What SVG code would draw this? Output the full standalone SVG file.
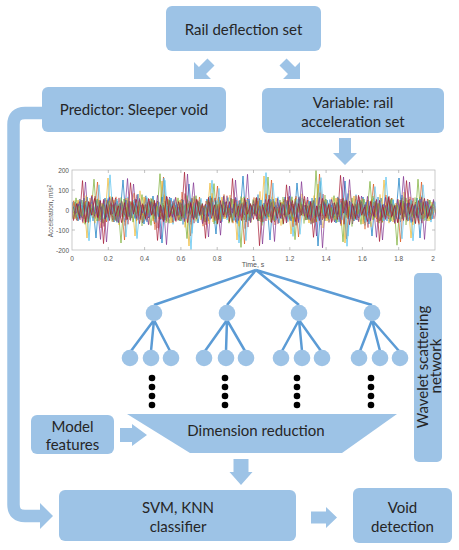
<svg xmlns="http://www.w3.org/2000/svg" width="459" height="550" viewBox="0 0 459 550">
<style>
.box{fill:#9DC3E6}
.lbl{font-family:Lato,"Liberation Sans",sans-serif;font-size:15px;fill:#262626;text-anchor:middle}
.ax{font-family:"Liberation Sans",Arial,sans-serif;font-size:6.5px;fill:#555}
.tl{stroke:#5B9BD5;stroke-width:2.5;fill:none}
.nd{fill:#9DC3E6}
.dot{fill:#000}
.sig{fill:none;stroke-width:0.9;stroke-opacity:0.75}
</style>
<defs>
<clipPath id="plotclip"><rect x="72" y="170" width="364" height="80"/></clipPath>
<path id="noise" d="M0,5 L3,-12 L6,18 L9,-8 L12,22 L15,-15 L18,9 L21,-25 L24,14 L27,-6 L30,30 L33,-18 L36,7 L39,-10 L42,20 L45,-22 L48,12 L51,-4 L54,26 L57,-14 L60,3 L63,-28 L66,16 L69,-9 L72,19 L75,-20 L78,8 L81,-13 L84,33 L87,-7 L90,15 L93,-24 L96,11 L99,-16 L102,21 L105,-5 L108,17 L111,-30 L114,6 L117,-11 L120,24 L123,-19 L126,10 L129,-8 L132,27 L135,-15 L138,4 L141,-22 L144,18 L147,-10 L150,13 L153,-26 L156,9 L159,-3 L162,22 L165,-17 L168,14 L171,-12 L174,31 L177,-9 L180,7 L183,-21 L186,16 L189,-6 L192,20 L195,-27 L198,12 L201,-14 L204,25 L207,-4 L210,10 L213,-18 L216,19 L219,-11 L222,28 L225,-23 L228,5 L231,-9 L234,17 L237,-16 L240,23 L243,-7 L246,11 L249,-29 L252,15 L255,-12 L258,21 L261,-5 L264,8 L267,-20 L270,26 L273,-14 L276,13 L279,-8 L282,18 L285,-24 L288,6 L291,-10 L294,32 L297,-17 L300,9 L303,-13 L306,20 L309,-6 L312,14 L315,-25 L318,11 L321,-9 L324,23 L327,-18 L330,7 L333,-12 L336,19 L339,-22 L342,10 L345,-4 L348,24 L351,-15 L354,12 L357,-8 L360,16 L363,-5"/>
<path id="noise2" d="M0,3 L3,-8 L6,11 L9,-5 L12,9 L15,-13 L18,6 L21,-4 L24,28 L27,-10 L30,7 L33,-12 L36,4 L39,-7 L42,12 L45,-9 L48,5 L51,-30 L54,10 L57,-6 L60,8 L63,-11 L66,3 L69,-5 L72,14 L75,-8 L78,6 L81,-14 L84,9 L87,-3 L90,33 L93,-9 L96,7 L99,-12 L102,5 L105,-6 L108,11 L111,-10 L114,4 L117,-26 L120,8 L123,-7 L126,13 L129,-5 L132,6 L135,-11 L138,9 L141,-4 L144,24 L147,-13 L150,7 L153,-8 L156,3 L159,-12 L162,10 L165,-6 L168,5 L171,-34 L174,12 L177,-9 L180,6 L183,-4 L186,11 L189,-10 L192,4 L195,-7 L198,30 L201,-11 L204,8 L207,-5 L210,9 L213,-13 L216,5 L219,-8 L222,12 L225,-27 L228,6 L231,-4 L234,10 L237,-9 L240,7 L243,-12 L246,36 L249,-6 L252,8 L255,-10 L258,4 L261,-7 L264,13 L267,-11 L270,5 L273,-29 L276,9 L279,-5 L282,11 L285,-8 L288,6 L291,-13 L294,10 L297,-4 L300,26 L303,-9 L306,7 L309,-12 L312,4 L315,-6 L318,12 L321,-10 L324,5 L327,-32 L330,9 L333,-7 L336,11 L339,-5 L342,8 L345,-12 L348,28 L351,-8 L354,6 L357,-10 L360,9 L363,-4"/>
<path id="barrow" d="M-5,-24 L5,-24 L5,-12 L12,-12 L0,0 L-12,-12 L-5,-12 Z"/>
</defs>
<rect width="459" height="550" fill="#fff"/>

<g id="rail-deflection">
<rect class="box" x="166" y="6" width="155" height="45" rx="6"/>
<text class="lbl" x="243.5" y="35">Rail deflection set</text>
</g>

<g id="predictor">
<rect class="box" x="42" y="87" width="184" height="45" rx="6"/>
<text class="lbl" x="134" y="115">Predictor: Sleeper void</text>
</g>

<g id="variable">
<rect class="box" x="262" y="88" width="182" height="45" rx="6"/>
<text class="lbl" x="353" y="108">Variable: rail</text>
<text class="lbl" x="353" y="127">acceleration set</text>
</g>

<g id="acceleration-plot">
<g clip-path="url(#plotclip)">
<use href="#noise2" class="sig" stroke="#0072BD" transform="translate(72,210)"/>
<use href="#noise2" class="sig" stroke="#D95319" transform="translate(73.5,210) scale(1,-1)"/>
<use href="#noise2" class="sig" stroke="#EDB120" transform="translate(435,210) scale(-1,1)"/>
<use href="#noise2" class="sig" stroke="#7E2F8E" transform="translate(433.5,210) scale(-1,-1)"/>
<use href="#noise2" class="sig" stroke="#77AC30" transform="translate(70,210) scale(1,-1.1)"/>
<use href="#noise2" class="sig" stroke="#4DBEEE" transform="translate(437,210) scale(-1,1.1)"/>
<use href="#noise" class="sig" stroke="#A2142F" transform="translate(74,210) scale(1,0.55)"/>
<use href="#noise" class="sig" stroke="#0072BD" transform="translate(432,210) scale(-1,-0.5)"/>
<use href="#noise" class="sig" stroke="#D95319" transform="translate(71,210) scale(1,0.6)"/>
<use href="#noise" class="sig" stroke="#EDB120" transform="translate(434,210) scale(-1,-0.6)"/>
<use href="#noise2" class="sig" stroke="#4DBEEE" transform="translate(75,210) scale(1,-0.9)"/>
<use href="#noise2" class="sig" stroke="#7E2F8E" transform="translate(76.5,210) scale(1,1.05)"/>
<use href="#noise" class="sig" stroke="#77AC30" transform="translate(436,210) scale(-1,0.5)"/>
<use href="#noise2" class="sig" stroke="#A2142F" transform="translate(430.5,210) scale(-1,-1.05)"/>
</g>
<rect x="72" y="170" width="363" height="80" fill="none" stroke="#bdbdbd" stroke-width="0.8"/>
<g stroke="#999" stroke-width="0.6">
<path d="M108.3,250v-3M144.6,250v-3M180.9,250v-3M217.2,250v-3M253.5,250v-3M289.8,250v-3M326.1,250v-3M362.4,250v-3M398.7,250v-3"/>
<path d="M108.3,170v3M144.6,170v3M180.9,170v3M217.2,170v3M253.5,170v3M289.8,170v3M326.1,170v3M362.4,170v3M398.7,170v3"/>
<path d="M72,190h3M72,210h3M72,230h3M432,190h3M432,210h3M432,230h3"/>
</g>
<g class="ax" text-anchor="end">
<text x="69" y="172.5">200</text>
<text x="69" y="192.5">100</text>
<text x="69" y="212.5">0</text>
<text x="69" y="232.5">-100</text>
<text x="69" y="252.5">-200</text>
</g>
<g class="ax" text-anchor="middle">
<text x="72" y="260.5">0</text>
<text x="108.3" y="260.5">0.2</text>
<text x="144.6" y="260.5">0.4</text>
<text x="180.9" y="260.5">0.6</text>
<text x="217.2" y="260.5">0.8</text>
<text x="253.5" y="260.5">1</text>
<text x="289.8" y="260.5">1.2</text>
<text x="326.1" y="260.5">1.4</text>
<text x="362.4" y="260.5">1.6</text>
<text x="398.7" y="260.5">1.8</text>
<text x="433" y="260.5">2</text>
<text x="253" y="267" font-size="7">Time, s</text>
</g>
<text class="ax" font-size="7" text-anchor="middle" transform="translate(53,211) rotate(-90)">Acceleration, m/s<tspan font-size="5" dy="-2.5">2</tspan></text>
</g>

<g id="wavelet-tree">
<path class="tl" d="M256,270 L154,305 M256,270 L227,305 M256,270 L299,305 M256,270 L372,305"/>
<path class="tl" d="M154,320 L131,351 M154,320 L151,351 M154,320 L170,351"/>
<path class="tl" d="M227,320 L205,351 M227,320 L226,351 M227,320 L245,351"/>
<path class="tl" d="M299,320 L282,351 M299,320 L302,351 M299,320 L321,351"/>
<path class="tl" d="M372,320 L360,351 M372,320 L380,351 M372,320 L399,351"/>
<circle class="nd" cx="154" cy="313" r="8.3"/>
<circle class="nd" cx="227" cy="313" r="8.3"/>
<circle class="nd" cx="299" cy="313" r="8.3"/>
<circle class="nd" cx="372" cy="313" r="8.3"/>
<circle class="nd" cx="130" cy="358" r="8.3"/>
<circle class="nd" cx="151" cy="358" r="8.3"/>
<circle class="nd" cx="171" cy="358" r="8.3"/>
<circle class="nd" cx="204" cy="358" r="8.3"/>
<circle class="nd" cx="226" cy="358" r="8.3"/>
<circle class="nd" cx="246" cy="358" r="8.3"/>
<circle class="nd" cx="281" cy="358" r="8.3"/>
<circle class="nd" cx="302" cy="358" r="8.3"/>
<circle class="nd" cx="322" cy="358" r="8.3"/>
<circle class="nd" cx="359" cy="358" r="8.3"/>
<circle class="nd" cx="380" cy="358" r="8.3"/>
<circle class="nd" cx="400" cy="358" r="8.3"/>
<g class="dot">
<circle cx="152" cy="378" r="3.3"/><circle cx="152" cy="387" r="3.3"/><circle cx="152" cy="396" r="3.3"/><circle cx="152" cy="405" r="3.3"/>
<circle cx="225" cy="378" r="3.3"/><circle cx="225" cy="387" r="3.3"/><circle cx="225" cy="396" r="3.3"/><circle cx="225" cy="405" r="3.3"/>
<circle cx="297" cy="378" r="3.3"/><circle cx="297" cy="387" r="3.3"/><circle cx="297" cy="396" r="3.3"/><circle cx="297" cy="405" r="3.3"/>
<circle cx="371" cy="378" r="3.3"/><circle cx="371" cy="387" r="3.3"/><circle cx="371" cy="396" r="3.3"/><circle cx="371" cy="405" r="3.3"/>
</g>
</g>

<g id="wavelet-network">
<rect class="box" x="414" y="273" width="28" height="189" rx="5"/>
<text class="lbl" font-size="14.5" transform="translate(427.5,367) rotate(-90)">Wavelet scattering</text>
<text class="lbl" font-size="14.5" transform="translate(441,366) rotate(-90)">network</text>
</g>

<g id="dimension-reduction">
<polygon class="box" points="127,414 397,414 342,453 190,453"/>
<text class="lbl" x="256" y="436">Dimension reduction</text>
</g>

<g id="model-features">
<rect class="box" x="31" y="415" width="83" height="39" rx="6"/>
<text class="lbl" x="72.5" y="431.5">Model</text>
<text class="lbl" x="72.5" y="450">features</text>
</g>

<g id="svm-knn">
<rect class="box" x="59" y="490" width="237" height="51" rx="6"/>
<text class="lbl" x="178" y="513">SVM, KNN</text>
<text class="lbl" x="178" y="532">classifier</text>
</g>

<g id="void-detection">
<rect class="box" x="353" y="488" width="99" height="55" rx="6"/>
<text class="lbl" x="402.5" y="513">Void</text>
<text class="lbl" x="402.5" y="532">detection</text>
</g>

<g id="connectors" fill="#9DC3E6">
<use href="#barrow" transform="translate(194,79) rotate(45)"/>
<use href="#barrow" transform="translate(300,79) rotate(-45)"/>
<path d="M339,138 L351,138 L351,153 L357,153 L345,165 L333,153 L339,153 Z"/>
<path d="M120,428 L132,428 L132,424 L147,435 L132,446 L132,442 L120,442 Z"/>
<path d="M233.5,459 L248.5,459 L248.5,472 L252.5,472 L241,485 L229.5,472 L233.5,472 Z"/>
<path d="M311,511.5 L326,511.5 L326,507 L337,517.5 L326,528 L326,523.5 L311,523.5 Z"/>
<path d="M42,113 L25,113 Q13.5,113 13.5,124.5 L13.5,504.5 Q13.5,516 25,516 L41,516" fill="none" stroke="#9DC3E6" stroke-width="12.5"/>
<path d="M40,503 L53,516 L40,529 Z"/>
</g>
</svg>
